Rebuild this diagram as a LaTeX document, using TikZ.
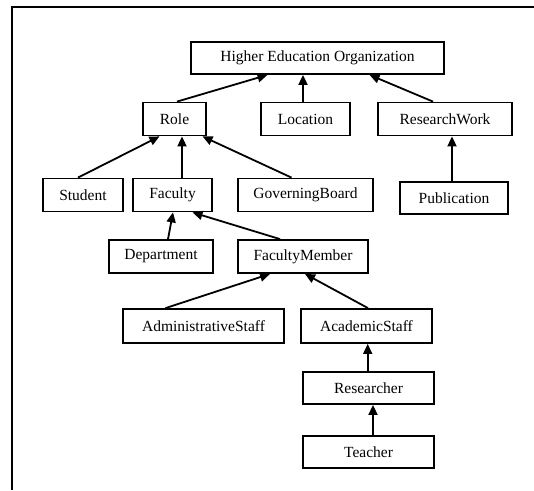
\documentclass[tikz,border=0pt]{standalone}
\usepackage{fontspec}
\setmainfont{Liberation Serif}
\usetikzlibrary{arrows.meta}
\begin{document}
\begin{tikzpicture}
  [x=1pt,y=-1pt,line width=1.8pt,
   every node/.style={draw,rectangle,inner sep=0pt,minimum height=33pt,
     font=\fontsize{15.5}{18}\selectfont}]
  \useasboundingbox (0,0) rectangle (534,490);
  \draw (534,7) -- (12,7) -- (12,490);

  \node[minimum width=253pt,minimum height=32pt] (heo) at (317.5,58) {Higher Education Organization};
  \node[minimum width=63pt]  (role) at (174.5,119) {Role};
  \node[minimum width=89pt]  (loc)  at (305.5,119) {Location};
  \node[minimum width=134pt] (rw)   at (445,119)   {ResearchWork};
  \node[minimum width=80pt]  (stu)  at (83,195)    {Student};
  \node[minimum width=79pt]  (fac)  at (172.5,195) {Faculty};
  \node[minimum width=135pt] (gb)   at (305.5,195) {GoverningBoard};
  \node[minimum width=108pt,minimum height=32pt] (pub) at (454,198) {Publication};
  \node[minimum width=104pt] (dep)  at (161,256.5) {Department};
  \node[minimum width=130pt] (fm)   at (303,256.5) {FacultyMember};
  \node[minimum width=161pt,minimum height=34pt] (adm) at (203.5,326) {AdministrativeStaff};
  \node[minimum width=131pt,minimum height=34pt] (aca) at (366.5,326) {AcademicStaff};
  \node[minimum width=131pt,minimum height=32pt] (res) at (368.5,388) {Researcher};
  \node[minimum width=131pt,minimum height=32pt] (tea) at (368.5,452) {Teacher};

  \foreach \from/\sf/\to/\st in {
      role/2.5/heo/-50, loc/-2.5/heo/-14.5, rw/-12/heo/52,
      stu/-5/role/-15, fac/9.5/role/7.5, gb/-14/role/28,
      pub/-2/rw/7, dep/7/fac/0.5, fm/-23/fac/20,
      adm/-38/fm/-33, aca/1.5/fm/2, res/-0.8/aca/1.2, tea/4.5/res/4.5}
    \draw[-{Triangle[length=10pt,width=9pt]}]
      ([xshift=\sf pt]\from.north) -- ([xshift=\st pt]\to.south);

\end{tikzpicture}
\end{document}
